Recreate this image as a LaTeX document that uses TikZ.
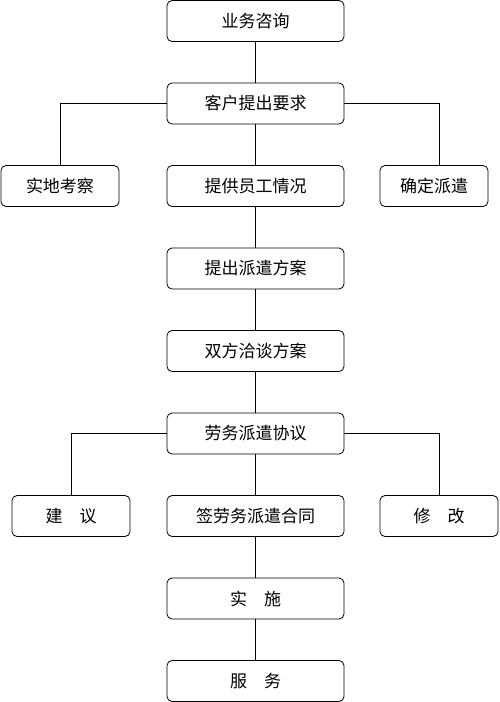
\documentclass[tikz,border=0pt]{standalone}
\usepackage{fontspec}
\newfontfamily\cjk{Noto Sans CJK SC}
\usetikzlibrary{positioning}

\begin{document}
\begin{tikzpicture}[
    box/.style={draw, line width=0.8pt, rounded corners=5pt, minimum width=177pt,
        minimum height=41pt, inner sep=0pt, outer sep=0pt, font=\cjk\fontsize{17}{20}\selectfont},
    sidebox/.style={box, minimum width=118pt},
    link/.style={line width=0.8pt},
    node distance=41.5pt
]
    \useasboundingbox (0,0) rectangle (500pt,-702pt);
    \node[box] (zixun) at (255.5pt,-21pt) {业务咨询};
    \node[box, below=of zixun] (yaoqiu) {客户提出要求};
    \node[box, below=of yaoqiu] (qingkuang) {提供员工情况};
    \node[sidebox, left=48pt of qingkuang] (kaocha) {实地考察};
    \node[sidebox, right=36pt of qingkuang, minimum width=108pt] (queding) {确定派遣};
    \node[box, below=of qingkuang] (fangan) {提出派遣方案};
    \node[box, below=of fangan] (qiatan) {双方洽谈方案};
    \node[box, below=of qiatan] (xieyi) {劳务派遣协议};
    \node[box, below=of xieyi] (hetong) {签劳务派遣合同};
    \node[sidebox, left=37pt of hetong] (jianyi) {建\hspace{1em}议};
    \node[sidebox, right=36pt of hetong] (xiugai) {修\hspace{1em}改};
    \node[box, below=of hetong] (shishi) {实\hspace{1em}施};
    \node[box, below=of shishi] (fuwu) {服\hspace{1em}务};

    \draw[link] (zixun) -- (yaoqiu);
    \draw[link] (yaoqiu) -- (qingkuang);
    \draw[link] (yaoqiu.west) -| (kaocha.north);
    \draw[link] (yaoqiu.east) -| ([xshift=5pt]queding.north);
    \draw[link] (qingkuang) -- (fangan);
    \draw[link] (fangan) -- (qiatan);
    \draw[link] (qiatan) -- (xieyi);
    \draw[link] (xieyi) -- (hetong);
    \draw[link] (xieyi.west) -| (jianyi.north);
    \draw[link] (xieyi.east) -| (xiugai.north);
    \draw[link] (hetong) -- (shishi);
    \draw[link] (shishi) -- (fuwu);
\end{tikzpicture}
\end{document}
